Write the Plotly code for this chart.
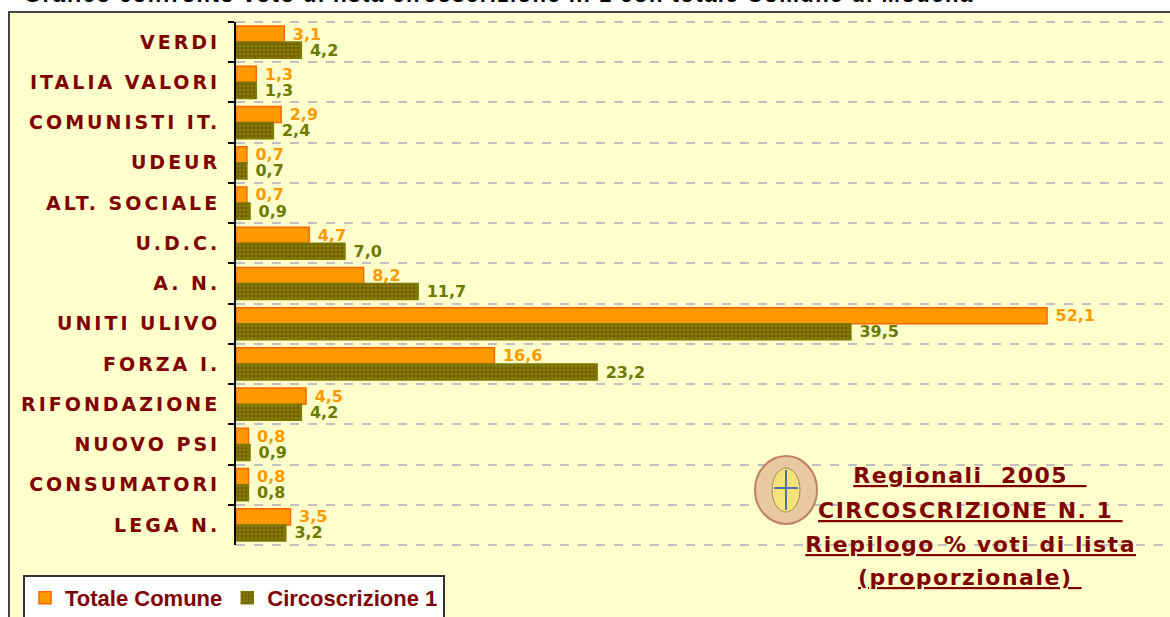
import plotly.graph_objects as go

categories = ["VERDI", "ITALIA VALORI", "COMUNISTI IT.", "UDEUR", "ALT. SOCIALE",
              "U.D.C.", "A. N.", "UNITI ULIVO", "FORZA I.", "RIFONDAZIONE",
              "NUOVO PSI", "CONSUMATORI", "LEGA N."]
totale_comune = [3.1, 1.3, 2.9, 0.7, 0.7, 4.7, 8.2, 52.1, 16.6, 4.5, 0.8, 0.8, 3.5]
circoscrizione_1 = [4.2, 1.3, 2.4, 0.7, 0.9, 7.0, 11.7, 39.5, 23.2, 4.2, 0.9, 0.8, 3.2]

DARKRED = "#800000"
ORANGE = "#FF9900"
OLIVE = "#808000"

fig = go.Figure()
fig.add_trace(go.Bar(
    y=categories, x=totale_comune, orientation="h", name="Totale Comune",
    marker=dict(color=ORANGE, line=dict(color="#FF6600", width=1.5)),
    texttemplate="&nbsp;%{x:.1f}", textposition="outside", cliponaxis=False,
    constraintext="none",
    textfont=dict(family="DejaVu Sans", size=16, color=ORANGE, weight="bold"),
))
fig.add_trace(go.Bar(
    y=categories, x=circoscrizione_1, orientation="h", name="Circoscrizione 1",
    marker=dict(color=OLIVE, line=dict(color="#7A7A00", width=1.5),
                pattern=dict(shape=".", fgcolor="#6E2A10", bgcolor=OLIVE,
                             size=4, solidity=0.45)),
    texttemplate="&nbsp;%{x:.1f}", textposition="outside", cliponaxis=False,
    constraintext="none",
    textfont=dict(family="DejaVu Sans", size=16, color="#6B7A00", weight="bold"),
))

W, H = 1170, 617
L, T, B = 236, 22, 72
pw, ph = W - L, H - T - B

def px_x(x):
    return (x - L) / pw

def px_y(y):
    return (H - B - y) / ph

shapes = [
    # outer chart frame
    dict(type="rect", xref="paper", yref="paper",
         x0=px_x(9), x1=px_x(1185), y0=px_y(640), y1=px_y(12),
         fillcolor="#FFFFCC", line=dict(color="#444444", width=2), layer="below"),
    # top and bottom dashed boundary lines
    dict(type="line", xref="paper", yref="paper", x0=0, x1=1, y0=1, y1=1,
         line=dict(color="#C0C0C0", width=2, dash="dash"), layer="below"),
    dict(type="line", xref="paper", yref="paper", x0=0, x1=1, y0=0, y1=0,
         line=dict(color="#C0C0C0", width=2, dash="dash"), layer="below"),
]
# emblem (decorative)
shapes += [
    dict(type="circle", xref="paper", yref="paper",
         x0=px_x(755), x1=px_x(817), y0=px_y(524), y1=px_y(456),
         fillcolor="#E8C9A0", line=dict(color="#C08060", width=2), layer="above"),
    dict(type="circle", xref="paper", yref="paper",
         x0=px_x(772), x1=px_x(800), y0=px_y(512), y1=px_y(468),
         fillcolor="#F5E27A", line=dict(color="#9A8A60", width=1), layer="above"),
    dict(type="line", xref="paper", yref="paper",
         x0=px_x(786), x1=px_x(786), y0=px_y(510), y1=px_y(470),
         line=dict(color="#5070B0", width=2), layer="above"),
    dict(type="line", xref="paper", yref="paper",
         x0=px_x(774), x1=px_x(798), y0=px_y(488), y1=px_y(488),
         line=dict(color="#5070B0", width=2), layer="above"),
]

annotations = [
    dict(text="Grafico confronto voto di lista circoscrizione n. 1 con totale Comune di Modena",
         xref="paper", yref="paper", x=px_x(22), y=px_y(-6), xanchor="left", yanchor="middle",
         align="left", showarrow=False,
         font=dict(family="Liberation Sans", size=22, color="#000000", weight="bold")),
]
info_lines = ["Regionali  2005  ", "CIRCOSCRIZIONE N. 1 ", "Riepilogo % voti di lista", "(proporzionale) "]
info_y = [475, 510, 544, 578]
for txt, yy in zip(info_lines, info_y):
    annotations.append(dict(
        text="<u>" + txt.replace(" ", "&nbsp;") + "</u>", xref="paper", yref="paper",
        x=px_x(970), y=px_y(yy), xanchor="center", yanchor="middle", showarrow=False,
        font=dict(family="DejaVu Sans", size=22, color=DARKRED, weight="bold")))

fig.update_layout(
    width=W, height=H,
    margin=dict(l=L, r=0, t=T, b=B, autoexpand=False),
    paper_bgcolor="#FFFFFF", plot_bgcolor="rgba(0,0,0,0)",
    separators=",.",
    barmode="group", bargap=0.2, bargroupgap=0.0,
    showlegend=True,
    legend=dict(orientation="h", x=px_x(23), y=px_y(575), xanchor="left", yanchor="top",
                bgcolor="#FFFFFF", bordercolor="#333333", borderwidth=2,
                font=dict(family="Liberation Sans", size=22, color=DARKRED, weight="bold"),
                itemwidth=30, tracegroupgap=0, traceorder="normal"),
    xaxis=dict(range=[0, 60], showgrid=False, zeroline=False, showticklabels=False,
               showline=False, ticks=""),
    yaxis=dict(autorange="reversed", type="category", tickson="boundaries",
               showgrid=True, gridcolor="#C0C0C0", griddash="dash", gridwidth=2,
               showline=True, linecolor="#000000", linewidth=2,
               ticks="outside", ticklen=6, tickcolor="#000000", tickwidth=2,
               ticklabelstandoff=10,
               tickfont=dict(family="DejaVu Sans", size=19, color=DARKRED, weight="bold")),
    shapes=shapes, annotations=annotations,
)

post = """
var s = document.createElement('style');
s.textContent = 'html,body{margin:0;padding:0;overflow:hidden} '
  + '.ytick text{letter-spacing:3px} '
  + '.annotation text{letter-spacing:1.5px} '
  + '.annotation[data-index="0"] text{letter-spacing:1.5px}';
document.head.appendChild(s);
"""

fig.write_html("out.html", post_script=post, config={"displayModeBar": False})
